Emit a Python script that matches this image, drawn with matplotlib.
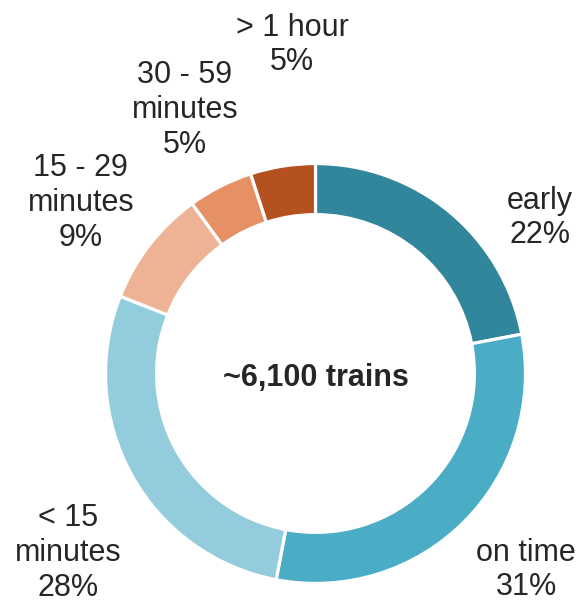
import matplotlib.pyplot as plt

plt.rcParams['font.family'] = ['Liberation Sans', 'DejaVu Sans']

# delay categories, clockwise from 12 o'clock
categories = ['early', 'on time', '< 15\nminutes', '15 - 29\nminutes',
              '30 - 59\nminutes', '> 1 hour']
shares = [22, 31, 28, 9, 5, 5]
total_label = '~6,100 trains'

colors = ['#31869B', '#4BACC6', '#93CDDD', '#EEB295', '#E69066', '#B5501F']
text_color = '#262626'

# label anchor points, in units of the ring's outer radius
label_pos = [(1.077, 0.746), (1.010, -0.942), (-1.187, -0.861),
             (-1.125, 0.818), (-0.626, 1.264), (-0.113, 1.576)]

fig = plt.figure(figsize=(5.82, 6.03), dpi=100)
ax = fig.add_axes([0, 0, 1, 1])

ax.pie(shares, colors=colors, startangle=90, counterclock=False,
       radius=1.007,
       wedgeprops=dict(width=0.245, edgecolor='white', linewidth=2.3))

for name, val, (x, y) in zip(categories, shares, label_pos):
    ax.text(x, y, f'{name}\n{val}%', ha='center', va='center',
            fontsize=22, color=text_color, linespacing=1.2)

ax.text(0, -0.02, total_label, ha='center', va='center', fontsize=22,
        fontweight='bold', color=text_color)

ax.set_xlim(-1.513, 1.278)
ax.set_ylim(-1.1007, 1.7914)
ax.set_aspect('auto')
ax.axis('off')

fig.savefig('out.png', dpi=100)
